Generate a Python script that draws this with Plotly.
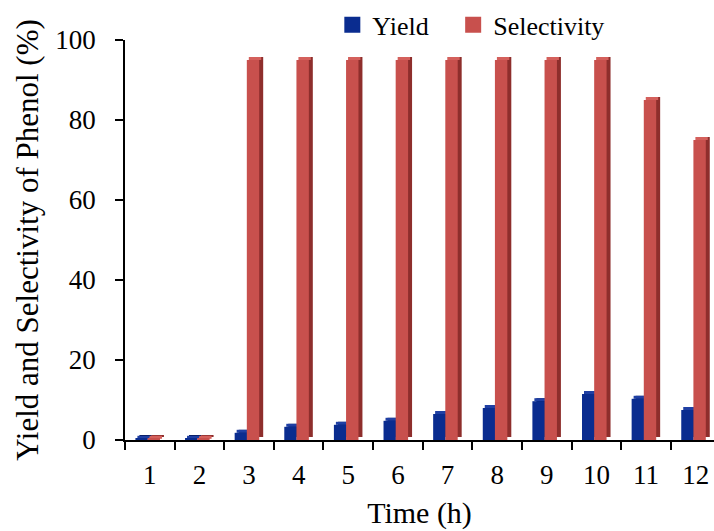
import plotly.graph_objects as go

hours = [1, 2, 3, 4, 5, 6, 7, 8, 9, 10, 11, 12]
tick_labels = [str(h) for h in hours]
yield_vals = [0.3, 0.3, 1.8, 3.3, 3.8, 4.8, 6.5, 8.0, 9.7, 11.5, 10.3, 7.5]
selectivity_vals = [0.3, 0.3, 95, 95, 95, 95, 95, 95, 95, 95, 85, 75]

BLUE = "#0a2c8f"
BLUE_DARK = "#061a5c"
BLUE_TOP = "#1f3fa3"
RED = "#c8504d"
RED_DARK = "#8e2e2c"
RED_TOP = "#d4605c"

W = 0.25
DX = 0.08   # depth shift in x (category units)
DY = 0.75   # depth shift in y (value units)

fig = go.Figure()

def add_series(vals, offset, color, dark, top, name, legend_name):
    # side face behind
    fig.add_trace(go.Bar(x=hours, y=vals, base=DY, width=W, offset=offset + DX,
                         marker=dict(color=dark, line=dict(width=0)),
                         showlegend=False, hoverinfo="skip"))
    # top face
    fig.add_trace(go.Bar(x=hours, y=[DY] * len(vals), base=vals, width=W,
                         offset=offset + DX / 2,
                         marker=dict(color=top, line=dict(width=0)),
                         showlegend=False, hoverinfo="skip"))
    # front face
    fig.add_trace(go.Bar(x=hours, y=vals, width=W, offset=offset, name=name,
                         marker=dict(color=color, line=dict(width=0)),
                         showlegend=False))
    # legend entry
    fig.add_trace(go.Scatter(x=[None], y=[None], mode="markers", name=legend_name,
                             marker=dict(symbol="square", size=16, color=color)))

add_series(yield_vals, -0.29, BLUE, BLUE_DARK, BLUE_TOP, "Yield", "Yield\u00a0\u00a0\u00a0")
add_series(selectivity_vals, -0.045, RED, RED_DARK, RED_TOP, "Selectivity", "Selectivity")

font = "Liberation Serif, Times New Roman, serif"

fig.update_layout(
    width=714, height=531,
    margin=dict(l=125, r=0, t=40, b=91, autoexpand=False),
    paper_bgcolor="white", plot_bgcolor="white",
    barmode="overlay",
    font=dict(family=font, size=27, color="black"),
    showlegend=True,
    legend=dict(orientation="h", x=0.352, y=0.953, xref="paper", yref="container",
                xanchor="left", yanchor="middle",
                font=dict(size=26, family=font), itemwidth=30,
                bgcolor="rgba(0,0,0,0)", tracegroupgap=0),
    xaxis=dict(
        range=[0.5, 12.37],
        tickvals=hours, ticktext=tick_labels, ticks="",
        showline=True, linecolor="black", linewidth=1.5,
        showgrid=False, zeroline=False,
        ticklabelstandoff=10,
        minor=dict(tickvals=[h - 0.5 for h in hours], ticks="outside",
                   ticklen=8, tickcolor="black", tickwidth=1.5, showgrid=False),
        title=dict(text="Time (h)", font=dict(size=30, family=font), standoff=13),
    ),
    yaxis=dict(
        range=[0, 100], tickvals=[0, 20, 40, 60, 80, 100],
        ticks="outside", ticklen=8, tickcolor="black", tickwidth=1.5,
        showline=True, linecolor="black", linewidth=1.5,
        showgrid=False, zeroline=False,
        ticklabelstandoff=14,
        title=dict(text="Yield and Selectivity of Phenol (%)",
                   font=dict(size=31, family=font), standoff=7),
    ),
)

fig.write_html("out.html")
